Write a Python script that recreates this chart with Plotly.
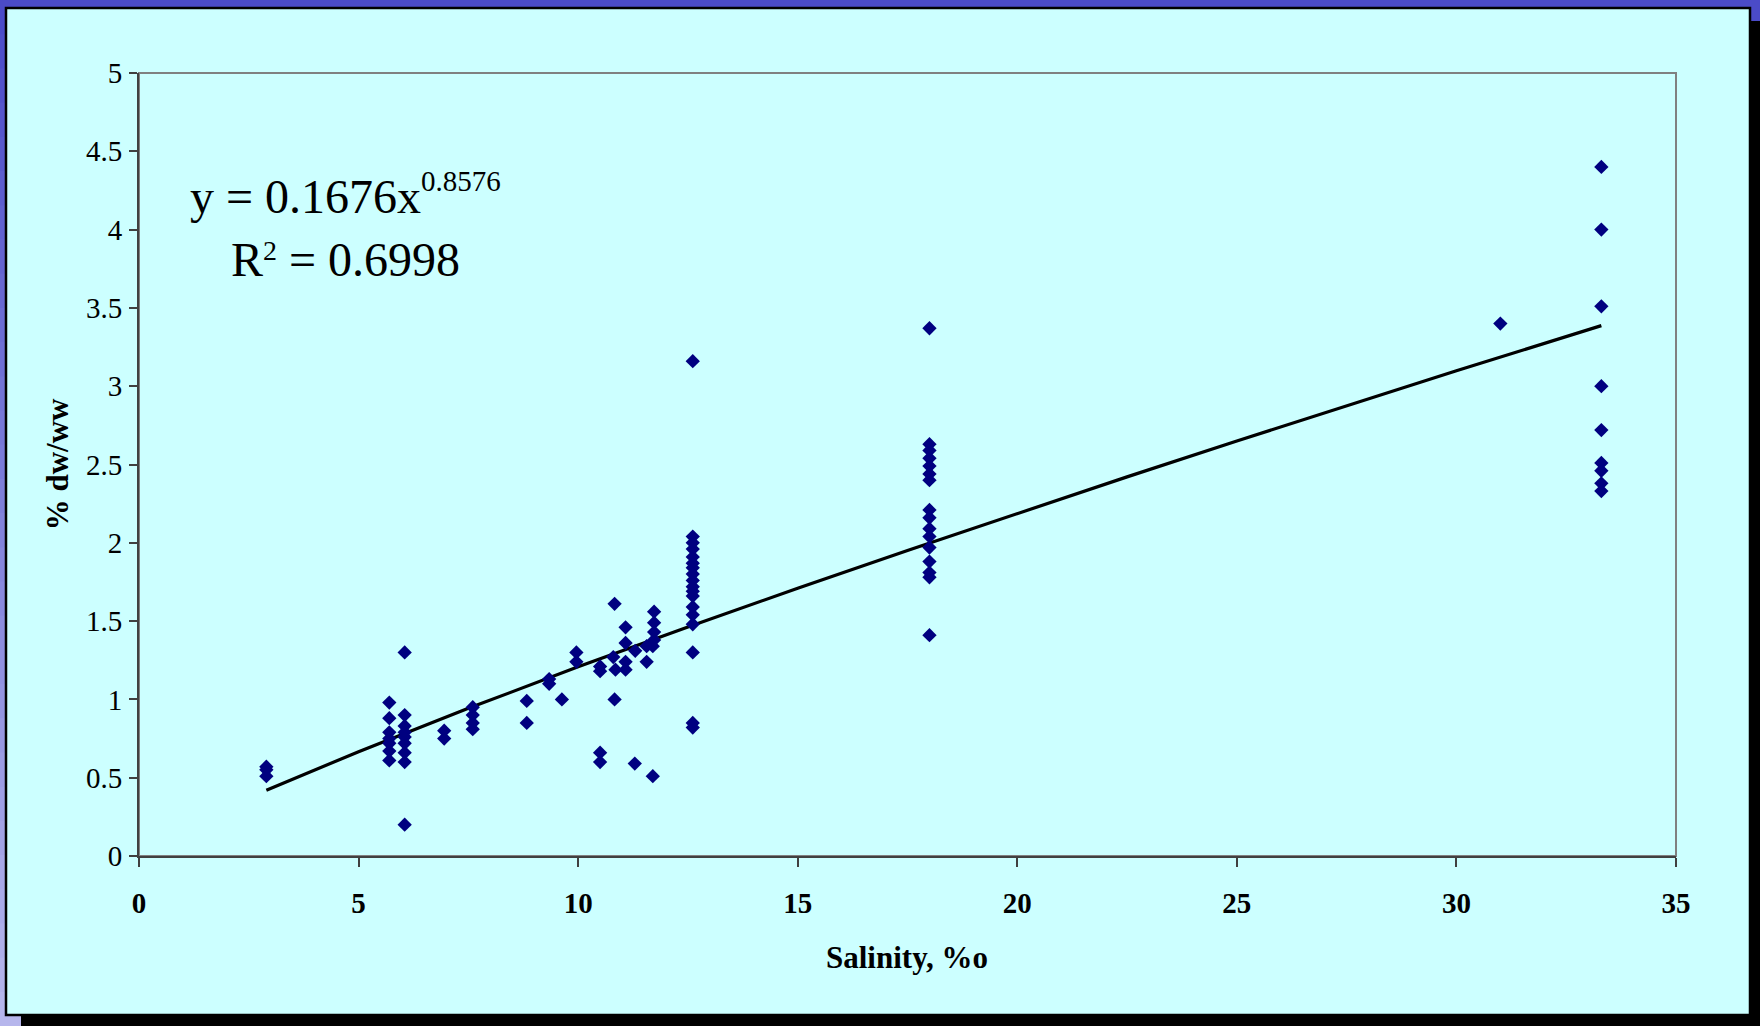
import plotly.graph_objects as go

# ---------------- data ----------------
salinity = [
    2.9, 2.9, 2.9,
    5.7, 5.7, 5.7, 5.7, 5.7, 5.7, 5.7,
    6.05, 6.05, 6.05, 6.05, 6.05, 6.05, 6.05, 6.05, 6.05,
    6.95, 6.95,
    7.6, 7.6, 7.6, 7.6,
    8.83, 8.83,
    9.34, 9.34,
    9.63,
    9.96, 9.96,
    10.5, 10.5, 10.5, 10.5,
    10.83, 10.8, 10.85, 10.83,
    11.08, 11.08, 11.08, 11.08,
    11.3, 11.29,
    11.56, 11.56,
    11.7,
    11.73, 11.73, 11.73, 11.73, 11.7,
    12.61, 12.61, 12.61, 12.61, 12.61, 12.61, 12.61, 12.61, 12.61,
    12.61, 12.61, 12.61, 12.61, 12.61, 12.61, 12.61, 12.61, 12.61,
    18.0, 18.0, 18.0, 18.0, 18.0, 18.0, 18.0, 18.0,
    18.0, 18.0, 18.0, 18.0, 18.0, 18.0, 18.0, 18.0,
    31.0,
    33.3, 33.3, 33.3, 33.3, 33.3, 33.3, 33.3, 33.3, 33.3,
]
dw_ww = [
    0.57, 0.55, 0.51,
    0.98, 0.88, 0.79, 0.75, 0.72, 0.67, 0.61,
    1.30, 0.90, 0.83, 0.79, 0.76, 0.72, 0.66, 0.60, 0.20,
    0.80, 0.75,
    0.95, 0.90, 0.85, 0.81,
    0.99, 0.85,
    1.13, 1.10,
    1.00,
    1.30, 1.24,
    1.21, 1.18, 0.66, 0.60,
    1.61, 1.27, 1.19, 1.00,
    1.46, 1.36, 1.24, 1.19,
    1.31, 0.59,
    1.34, 1.24,
    0.51,
    1.56, 1.49, 1.43, 1.38, 1.34,
    3.16, 2.04, 2.00, 1.96, 1.91, 1.87, 1.84, 1.80, 1.76,
    1.72, 1.69, 1.66, 1.59, 1.54, 1.48, 1.30, 0.85, 0.82,
    3.37, 2.63, 2.59, 2.54, 2.49, 2.44, 2.40, 2.21,
    2.16, 2.09, 2.04, 1.97, 1.88, 1.81, 1.78, 1.41,
    3.40,
    4.40, 4.00, 3.51, 3.00, 2.72, 2.51, 2.46, 2.38, 2.33,
]

# power trendline, points
trend_x = [2.9, 5, 7.5, 10, 12.5, 15, 17.5, 20, 22.5, 25, 27.5, 30, 33.3]
trend_y = [0.42, 0.666, 0.943, 1.208, 1.462, 1.710, 1.951, 2.188, 2.421, 2.650, 2.876, 3.098, 3.387]

x_ticks = [0, 5, 10, 15, 20, 25, 30, 35]
y_ticks = [0, 0.5, 1, 1.5, 2, 2.5, 3, 3.5, 4, 4.5, 5]
y_tick_text = ["0", "0.5", "1", "1.5", "2", "2.5", "3", "3.5", "4", "4.5", "5"]

eq_main = "y = 0.1676x"
eq_exp = "0.8576"
r2_r = "R"
r2_sup = "2"
r2_val = "= 0.6998"
x_title = "Salinity, %o"
y_title = "% dw/ww"

# ---------------- layout geometry (pixels) ----------------
W, H = 1760, 1026
L, R, T, B = 139, 84, 73, 170
PW, PH = W - L - R, H - T - B
CYAN = "#CCFFFF"
SERIF = "Liberation Serif, Times New Roman, serif"


def px(x):
    return (x - L) / PW


def py(y):
    return (H - B - y) / PH


fig = go.Figure()
fig.add_trace(go.Scatter(
    x=trend_x, y=trend_y, mode="lines",
    line=dict(color="black", width=3.2), showlegend=False, hoverinfo="skip"))
fig.add_trace(go.Scatter(
    x=salinity, y=dw_ww, mode="markers",
    marker=dict(symbol="diamond", size=11, color="#000080",
                line=dict(width=0)),
    showlegend=False))

shapes = []
# left gradient strip of the slide background
n = 30
c0, c1 = (75, 75, 200), (182, 182, 236)
for i in range(n):
    t = i / (n - 1)
    col = "rgb(%d,%d,%d)" % tuple(int(c0[k] + (c1[k] - c0[k]) * t) for k in range(3))
    shapes.append(dict(type="rect", xref="paper", yref="paper", layer="below",
                       x0=px(0), x1=px(24), y0=py(H * i / n), y1=py(H * (i + 1) / n + 1),
                       fillcolor=col, line=dict(width=0)))
# shadow
shapes.append(dict(type="rect", xref="paper", yref="paper", layer="below",
                   x0=px(21), x1=px(W + 5), y0=py(21), y1=py(H + 5),
                   fillcolor="black", line=dict(width=0)))
# frame
shapes.append(dict(type="rect", xref="paper", yref="paper", layer="below",
                   x0=px(6), x1=px(1750), y0=py(8), y1=py(1015),
                   fillcolor=CYAN, line=dict(color="black", width=2.5)))
# plot-area border
shapes.append(dict(type="rect", xref="paper", yref="paper", layer="below",
                   x0=0, x1=1, y0=0, y1=1,
                   fillcolor=CYAN, line=dict(color="#808080", width=2)))

ann = []
ann.append(dict(text=eq_main, x=px(188), y=py(196.5), xref="paper", yref="paper",
                xanchor="left", yanchor="middle", showarrow=False,
                font=dict(family=SERIF, size=48, color="black")))
ann.append(dict(text=eq_exp, x=px(419), y=py(180.5), xref="paper", yref="paper",
                xanchor="left", yanchor="middle", showarrow=False,
                font=dict(family=SERIF, size=29, color="black")))
ann.append(dict(text=r2_r, x=px(229), y=py(259), xref="paper", yref="paper",
                xanchor="left", yanchor="middle", showarrow=False,
                font=dict(family=SERIF, size=48, color="black")))
ann.append(dict(text=r2_sup, x=px(261), y=py(250), xref="paper", yref="paper",
                xanchor="left", yanchor="middle", showarrow=False,
                font=dict(family=SERIF, size=28, color="black")))
ann.append(dict(text=r2_val, x=px(287), y=py(259), xref="paper", yref="paper",
                xanchor="left", yanchor="middle", showarrow=False,
                font=dict(family=SERIF, size=48, color="black")))
ann.append(dict(text="<b>" + x_title + "</b>", x=px(907), y=py(957.5), xref="paper", yref="paper",
                xanchor="center", yanchor="middle", showarrow=False,
                font=dict(family=SERIF, size=31, color="black")))
ann.append(dict(text="<b>" + y_title + "</b>", x=px(57.8), y=py(464.5), xref="paper", yref="paper",
                xanchor="center", yanchor="middle", showarrow=False, textangle=-90,
                font=dict(family=SERIF, size=31, color="black")))

fig.update_layout(
    width=W, height=H, autosize=False,
    margin=dict(l=L, r=R, t=T, b=B, pad=0),
    paper_bgcolor="rgb(75,75,200)",
    plot_bgcolor=CYAN,
    shapes=shapes, annotations=ann,
    showlegend=False,
    xaxis=dict(range=[0, 35], tickvals=x_ticks, ticktext=[str(v) for v in x_ticks],
               showgrid=False, zeroline=False, showline=True,
               linecolor="#404040", linewidth=2,
               ticks="outside", ticklen=9, tickwidth=1.5, tickcolor="#404040",
               ticklabelstandoff=11,
               tickfont=dict(family=SERIF, size=29, color="black", weight="bold")),
    yaxis=dict(range=[0, 5], tickvals=y_ticks, ticktext=y_tick_text,
               showgrid=False, zeroline=False, showline=True,
               linecolor="#404040", linewidth=2,
               ticks="outside", ticklen=8, tickwidth=1.5, tickcolor="#404040",
               ticklabelstandoff=1,
               tickfont=dict(family=SERIF, size=29, color="black")),
)

fig.write_html("out.html", config={"displayModeBar": False},
               post_script="document.body.style.margin='0';document.body.style.overflow='hidden';")
